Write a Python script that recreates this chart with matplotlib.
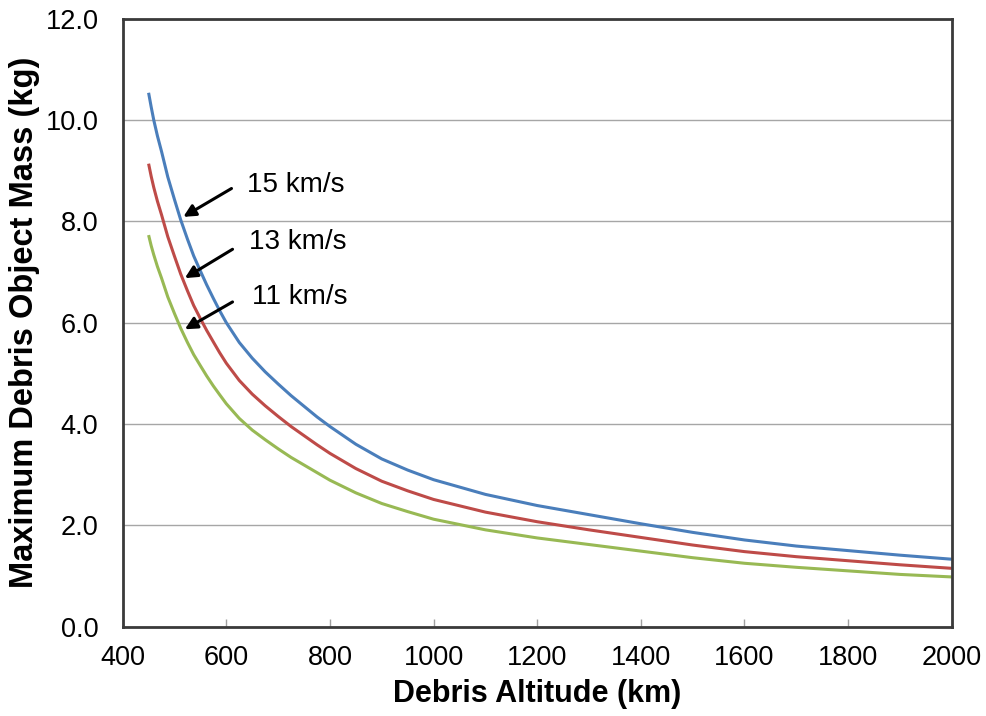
import matplotlib.pyplot as plt

# altitude (km) and read-off masses (kg) per impact speed
altitude = [450, 455, 460, 467, 475, 487, 500, 512, 525, 537, 550, 562, 575,
            587, 600, 625, 650, 675, 700, 725, 750, 775, 800, 850, 900, 950,
            1000, 1100, 1200, 1300, 1400, 1500, 1600, 1700, 1800, 1900, 2000]
mass_15 = [10.54, 10.26, 10.0, 9.69, 9.38, 8.88, 8.43, 8.03, 7.65, 7.32, 7.02,
           6.75, 6.48, 6.24, 6.00, 5.61, 5.30, 5.03, 4.79, 4.56, 4.35, 4.14,
           3.95, 3.60, 3.31, 3.09, 2.90, 2.61, 2.39, 2.21, 2.03, 1.86, 1.71,
           1.59, 1.50, 1.41, 1.33]
mass_13 = [9.14, 8.89, 8.67, 8.40, 8.13, 7.70, 7.31, 6.96, 6.63, 6.34, 6.08,
           5.85, 5.62, 5.41, 5.20, 4.86, 4.59, 4.36, 4.15, 3.95, 3.77, 3.59,
           3.42, 3.12, 2.87, 2.68, 2.51, 2.26, 2.07, 1.91, 1.76, 1.61, 1.48,
           1.38, 1.30, 1.22, 1.15]
mass_11 = [7.73, 7.52, 7.34, 7.11, 6.88, 6.51, 6.18, 5.89, 5.61, 5.37, 5.15,
           4.95, 4.75, 4.58, 4.40, 4.11, 3.88, 3.69, 3.51, 3.34, 3.19, 3.04,
           2.89, 2.64, 2.43, 2.27, 2.12, 1.91, 1.75, 1.62, 1.49, 1.36, 1.25,
           1.17, 1.10, 1.03, 0.98]

x_ticks = [400, 600, 800, 1000, 1200, 1400, 1600, 1800, 2000]
y_ticks = [0, 2, 4, 6, 8, 10, 12]

plt.rcParams['font.family'] = ['Liberation Sans', 'DejaVu Sans']

fig = plt.figure(figsize=(9.87, 7.16), dpi=100)
ax = fig.add_axes([0.1243, 0.1249, 0.8400, 0.8488])

ax.plot(altitude, mass_15, color='#4A7EBB', lw=2.2, solid_capstyle='butt')
ax.plot(altitude, mass_13, color='#BE4B48', lw=2.2, solid_capstyle='butt')
ax.plot(altitude, mass_11, color='#98B954', lw=2.2, solid_capstyle='butt')

ax.set_xlim(400, 2000)
ax.set_ylim(0, 12)
ax.set_xticks(x_ticks)
ax.set_yticks(y_ticks)
ax.set_yticklabels([f'{v:.1f}' for v in y_ticks])
ax.grid(axis='y', color='#A6A6A6', lw=1.0)
ax.set_axisbelow(True)

ax.tick_params(axis='x', direction='in', length=6, width=1, color='#A0A0A0',
               labelsize=19.5, pad=13)
ax.tick_params(axis='y', length=0, labelsize=19.5, pad=17.5)

for s in ax.spines.values():
    s.set_color('#3A3A3A')
    s.set_linewidth(2.0)

ax.set_xlabel('Debris Altitude (km)', fontsize=22, fontweight='bold',
              labelpad=6)
ax.set_ylabel('Maximum Debris Object Mass (kg)', fontsize=23.5,
              fontweight='bold', labelpad=4)

# speed labels with arrows
notes = [('15 km/s', (640, 8.72), (610, 8.65), (517, 8.09)),
         ('13 km/s', (644, 7.60), (612, 7.45), (520, 6.88)),
         ('11 km/s', (649, 6.51), (612, 6.41), (520, 5.87))]
for txt, tpos, tail, head in notes:
    ax.text(tpos[0], tpos[1], txt, fontsize=20, va='center', ha='left')
    ax.annotate('', xy=head, xytext=tail,
                arrowprops=dict(arrowstyle='-|>', color='black', lw=2.2,
                                mutation_scale=18, shrinkA=0, shrinkB=0))

fig.savefig('out.png', dpi=100)
